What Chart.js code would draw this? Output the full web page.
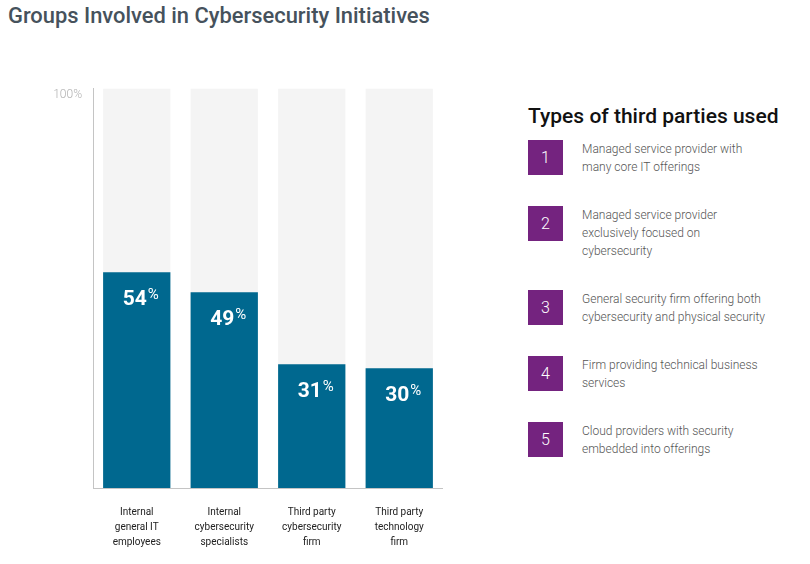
<!DOCTYPE html>
<html><head><meta charset="utf-8">
<script src="https://cdn.jsdelivr.net/npm/chart.js@4"></script>
<style>
html,body{margin:0;padding:0;background:#fff;width:810px;height:564px;overflow:hidden;font-family:Roboto,sans-serif;}
#title{position:absolute;left:8px;top:5px;font-size:21.9px;line-height:21px;color:#46525c;font-weight:500;white-space:nowrap}
#wrap{position:absolute;left:0;top:0;width:443px;height:564px}
#ltitle{position:absolute;left:528px;top:104px;font-size:21px;line-height:24px;font-weight:500;color:#111;white-space:nowrap}
#list{position:absolute;left:528px;top:140px;width:270px}
.item{display:flex;align-items:flex-start;margin-bottom:30px}
.box{flex:none;width:35px;height:35px;background:#74237f;color:#fff;font-size:16px;font-weight:300;display:flex;align-items:center;justify-content:center}
.txt{margin-left:19px;font-size:12px;line-height:18px;color:#555;font-weight:300;white-space:nowrap}
</style></head>
<body>
<div id="title">Groups Involved in Cybersecurity Initiatives</div>
<div id="wrap"><canvas id="c" width="443" height="564"></canvas></div>
<div id="ltitle"></div>
<div id="list"></div>
<script>
const categories = [
  ['Internal','general IT','employees'],
  ['Internal','cybersecurity','specialists'],
  ['Third party','cybersecurity','firm'],
  ['Third party','technology','firm']
];
const values = [54, 49, 31, 30];
const totals = [100, 100, 100, 100];
const yTickLabel = '100%';
const legendTitle = 'Types of third parties used';
const legendNumbers = ['1','2','3','4','5'];
const legendTexts = [
  ['Managed service provider with','many core IT offerings'],
  ['Managed service provider','exclusively focused on','cybersecurity'],
  ['General security firm offering both','cybersecurity and physical security'],
  ['Firm providing technical business','services'],
  ['Cloud providers with security','embedded into offerings']
];

document.getElementById('ltitle').textContent = legendTitle;
const list = document.getElementById('list');
legendNumbers.forEach((n,i)=>{
  const it = document.createElement('div'); it.className='item';
  const b = document.createElement('div'); b.className='box'; b.textContent=n;
  const t = document.createElement('div'); t.className='txt';
  legendTexts[i].forEach((ln,j)=>{ if(j) t.appendChild(document.createElement('br')); t.appendChild(document.createTextNode(ln)); });
  it.appendChild(b); it.appendChild(t); list.appendChild(it);
});

const labelPlugin = {
  id:'barLabels',
  afterDatasetsDraw(chart){
    const ctx = chart.ctx;
    const meta = chart.getDatasetMeta(0);
    ctx.save();
    ctx.fillStyle = '#fff';
    ctx.textAlign = 'left';
    ctx.textBaseline = 'alphabetic';
    meta.data.forEach((bar,i)=>{
      const num = String(values[i]);
      ctx.font = 'bold 21px Roboto';
      const w1 = ctx.measureText(num).width;
      ctx.font = '400 15px Roboto';
      const w2 = ctx.measureText('%').width;
      const gap = 1;
      const x0 = bar.x + 4 - (w1 + gap + w2) / 2;
      const base = bar.y + 32.5;
      ctx.font = 'bold 21px Roboto';
      ctx.fillText(num, x0, base);
      ctx.font = '400 15px Roboto';
      ctx.fillText('%', x0 + w1 + gap, base - 6);
    });
    ctx.restore();
  }
};

new Chart(document.getElementById('c'), {
  type:'bar',
  data:{
    labels: categories,
    datasets:[
      {data: values, backgroundColor:'#00688f', grouped:false, order:0, barPercentage:0.769, categoryPercentage:1},
      {data: totals, backgroundColor:'#f4f4f4', grouped:false, order:1, barPercentage:0.769, categoryPercentage:1}
    ]
  },
  options:{
    responsive:false,
    animation:false,
    layout:{padding:{top:88.5,left:0,right:0,bottom:0}},
    plugins:{legend:{display:false},tooltip:{enabled:false}},
    scales:{
      x:{
        grid:{display:false, drawTicks:false},
        border:{display:true,color:'#c4c4c4',width:1},
        ticks:{color:'#222',font:{family:'Roboto',size:10,lineHeight:1.5},padding:17,maxRotation:0,autoSkip:false},
        afterFit(s){ s.height = 76; }
      },
      y:{
        min:0,max:100,
        grid:{display:false, drawTicks:false},
        border:{display:true,color:'#c4c4c4',width:1},
        ticks:{stepSize:100,color:'#b0b0b0',font:{family:'Roboto',size:12,weight:'300'},padding:11,labelOffset:6.5,
          callback:(v)=> v===100 ? yTickLabel : null},
        afterFit(s){ s.width = 93; }
      }
    }
  },
  plugins:[labelPlugin]
});
</script>
</body></html>
